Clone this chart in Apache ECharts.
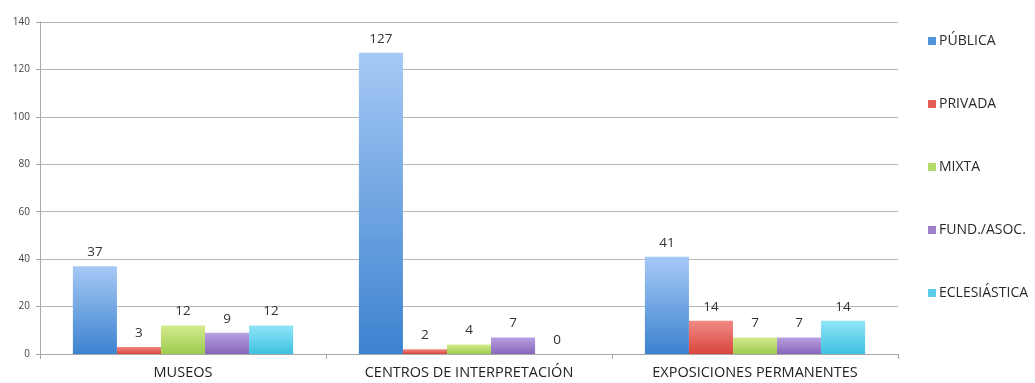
<!DOCTYPE html>
<html>
<head>
<meta charset="utf-8">
<script src="https://cdn.jsdelivr.net/npm/echarts@6/dist/echarts.min.js"></script>
<style>
  html, body { margin: 0; padding: 0; background: #fff; }
  #main { width: 1035px; height: 383px; }
</style>
</head>
<body>
<div id="main"></div>
<script>
var categories = ['MUSEOS', 'CENTROS DE INTERPRETACIÓN', 'EXPOSICIONES PERMANENTES'];
var publica = [37, 127, 41];
var privada = [3, 2, 14];
var mixta = [12, 4, 7];
var fundAsoc = [9, 7, 7];
var eclesiastica = [12, 0, 14];

var chartDom = document.getElementById('main');
var myChart = echarts.init(chartDom);

function grad(top, bottom) {
  return new echarts.graphic.LinearGradient(0, 0, 0, 1, [
    { offset: 0, color: top },
    { offset: 1, color: bottom }
  ]);
}

function makeSeries(name, data, top, bottom, legendColor) {
  return {
    name: name,
    type: 'bar',
    data: data,
    barGap: '0%',
    barCategoryGap: '23%',
    itemStyle: { color: grad(top, bottom) },
    label: {
      show: true,
      position: 'top',
      distance: 7,
      color: '#333',
      fontSize: 13.5,
      fontFamily: 'Open Sans'
    },
    legendColor: legendColor
  };
}

var series = [
  makeSeries('PÚBLICA', publica, '#a6c9f5', '#3c82cf', '#4f93dc'),
  makeSeries('PRIVADA', privada, '#f08a84', '#d9453c', '#e35d55'),
  makeSeries('MIXTA', mixta, '#d4ec8e', '#9ccb4e', '#b4d86a'),
  makeSeries('FUND./ASOC.', fundAsoc, '#b8a0e0', '#8767bd', '#9c80cc'),
  makeSeries('ECLESIÁSTICA', eclesiastica, '#8fe6f7', '#3ec1e0', '#5ccde8')
];

var option = {
  animation: false,
  backgroundColor: '#fff',
  grid: { left: 40, right: 137, top: 22, bottom: 29 },
  legend: {
    orient: 'vertical',
    left: 923,
    top: 29,
    itemGap: 49,
    itemWidth: 8,
    itemHeight: 8,
    icon: 'rect',
    textStyle: { color: '#2a2a2a', fontSize: 14, fontFamily: 'Open Sans', padding: [0, 0, 0, -2] },
    data: series.map(function (s) {
      return { name: s.name, itemStyle: { color: s.legendColor } };
    })
  },
  xAxis: {
    type: 'category',
    data: categories,
    axisLine: { lineStyle: { color: '#a8a8a8', width: 1 } },
    axisTick: { show: true, length: 5, lineStyle: { color: '#a8a8a8' } },
    axisLabel: { color: '#222', fontSize: 14.5, fontFamily: 'Open Sans', margin: 11 }
  },
  yAxis: {
    type: 'value',
    min: 0,
    max: 140,
    interval: 20,
    axisLine: { show: true, lineStyle: { color: '#a8a8a8' } },
    axisTick: { show: true, length: 4, lineStyle: { color: '#a8a8a8' } },
    axisLabel: { color: '#444', fontSize: 10, fontFamily: 'Open Sans', margin: 10 },
    splitLine: { lineStyle: { color: '#b5b5b5', width: 1 } }
  },
  series: series
};

myChart.setOption(option);
</script>
</body>
</html>
